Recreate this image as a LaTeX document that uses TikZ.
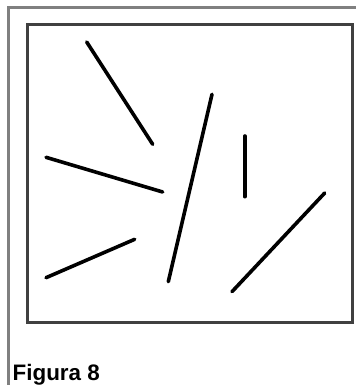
\documentclass[tikz,border=0pt]{standalone}
\usepackage{fontspec}
\setmainfont{Liberation Sans}

\begin{document}
\begin{tikzpicture}[
    x=1pt, y=-1pt,
    frame/.style={draw=black!50, line width=3pt},
    panel/.style={draw=black!75, line width=2.5pt},
    stick/.style={line width=3.6pt, line cap=round},
    caption/.style={font=\fontsize{22.4}{26}\selectfont\bfseries, inner sep=0pt},
]

    \useasboundingbox (0,0) rectangle (356,385);
    \draw[frame] (8.5,385) -- (8.5,8) -- (356,8);
    \draw[panel] (27.5,24.5) rectangle (352.5,322.7);

    \draw[stick] (86.7,42) -- (152.7,144.3);
    \draw[stick] (46,157.3) -- (162.7,192);
    \draw[stick] (46,277.7) -- (134.7,239.3);
    \draw[stick] (212,94.3) -- (168.3,281.7);
    \draw[stick] (244.7,136) -- (244.7,196.7);
    \draw[stick] (324.7,193) -- (232,291.7);

    \node[caption, anchor=base west] (title) at (12.5,380.7) {Figura 8};

\end{tikzpicture}
\end{document}
